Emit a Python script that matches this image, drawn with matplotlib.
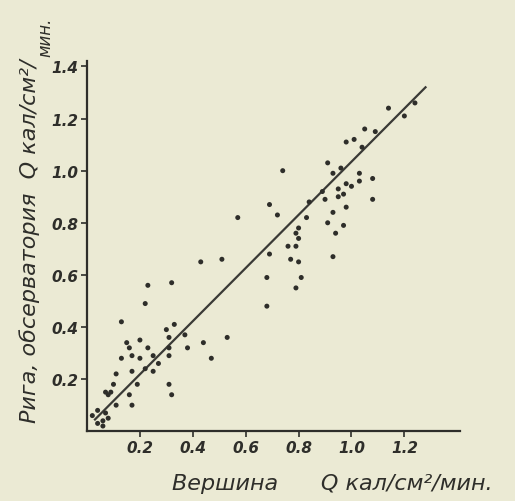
import numpy as np
import matplotlib
matplotlib.use("Agg")
import matplotlib.pyplot as plt

# Вершина (x) vs Рига, обсерватория (y), Q кал/см²/мин
x_vals = [1.14, 1.24, 1.20, 1.05, 1.09, 0.98, 1.01, 1.04, 0.91, 0.96,
          0.93, 0.74, 1.03, 1.08, 1.03, 0.98, 0.95, 1.00, 0.97, 0.95,
          1.08, 0.89, 0.90, 0.84, 0.69, 0.98, 0.72, 0.57, 0.93, 0.83,
          0.91, 0.97, 0.94, 0.80, 0.79, 0.80, 0.76, 0.79, 0.69, 0.93,
          0.51, 0.43, 0.77, 0.80, 0.68, 0.81, 0.79, 0.23, 0.32, 0.22,
          0.68, 0.13, 0.33, 0.30, 0.53, 0.20, 0.31, 0.37, 0.15, 0.44,
          0.38, 0.23, 0.16, 0.17, 0.31, 0.13, 0.20, 0.25, 0.31, 0.47,
          0.27, 0.17, 0.22, 0.11, 0.25, 0.10, 0.19, 0.31, 0.07, 0.16,
          0.32, 0.08, 0.17, 0.11, 0.04, 0.07, 0.06, 0.02, 0.08, 0.04,
          0.06, 0.09]
y_vals = [1.24, 1.26, 1.21, 1.16, 1.15, 1.11, 1.12, 1.09, 1.03, 1.01,
          0.99, 1.00, 0.99, 0.97, 0.96, 0.95, 0.93, 0.94, 0.91, 0.90,
          0.89, 0.92, 0.89, 0.88, 0.87, 0.86, 0.83, 0.82, 0.84, 0.82,
          0.80, 0.79, 0.76, 0.78, 0.76, 0.74, 0.71, 0.71, 0.68, 0.67,
          0.66, 0.65, 0.66, 0.65, 0.59, 0.59, 0.55, 0.56, 0.57, 0.49,
          0.48, 0.42, 0.41, 0.39, 0.36, 0.35, 0.36, 0.37, 0.34, 0.34,
          0.32, 0.32, 0.32, 0.29, 0.32, 0.28, 0.28, 0.29, 0.29, 0.28,
          0.26, 0.23, 0.24, 0.22, 0.23, 0.18, 0.18, 0.18, 0.15, 0.14,
          0.14, 0.14, 0.10, 0.10, 0.08, 0.07, 0.04, 0.06, 0.05, 0.03,
          0.02, 0.15]

# regression line end points
line_x = [0.03, 1.28]
line_y = [0.045, 1.32]

x_ticks = [0.2, 0.4, 0.6, 0.8, 1.0, 1.2]
y_ticks = [0.2, 0.4, 0.6, 0.8, 1.0, 1.2, 1.4]

paper = "#ebead4"
ink = "#2e2e2a"

fig = plt.figure(figsize=(5.15, 5.02), dpi=100, facecolor=paper)
ax = fig.add_axes([0.169, 0.139, 0.724, 0.737])
ax.set_facecolor(paper)

ax.plot(line_x, line_y, color="#3a3a36", linewidth=1.6)
ax.scatter(x_vals, y_vals, s=13, color=ink, edgecolors="none", zorder=3)

ax.set_xlim(0, 1.41)
ax.set_ylim(0, 1.42)
for side in ["top", "right"]:
    ax.spines[side].set_visible(False)
for side in ["left", "bottom"]:
    ax.spines[side].set_color(ink)
    ax.spines[side].set_linewidth(1.6)

ax.set_xticks(x_ticks)
ax.set_yticks(y_ticks)
ax.set_xticklabels([f"{v:.1f}" for v in x_ticks])
ax.set_yticklabels([f"{v:.1f}" for v in y_ticks])
ax.tick_params(direction="out", length=4, width=1.2, color=ink,
               labelcolor=ink, labelsize=11, pad=2)
for lab in ax.get_xticklabels() + ax.get_yticklabels():
    lab.set_fontstyle("italic")
    lab.set_fontweight("bold")

fig.text(0.058, 0.52, "Рига, обсерватория  Q кал/см²/", rotation=90,
         ha="center", va="center", fontsize=16, style="italic", color=ink)
fig.text(0.088, 0.925, "мин.", rotation=90, ha="center", va="center",
         fontsize=12, style="italic", color=ink)
fig.text(0.645, 0.035, "Вершина      Q кал/см²/мин.", ha="center", va="center",
         fontsize=16, style="italic", color=ink)

fig.savefig("out.png", dpi=100, facecolor=paper)
